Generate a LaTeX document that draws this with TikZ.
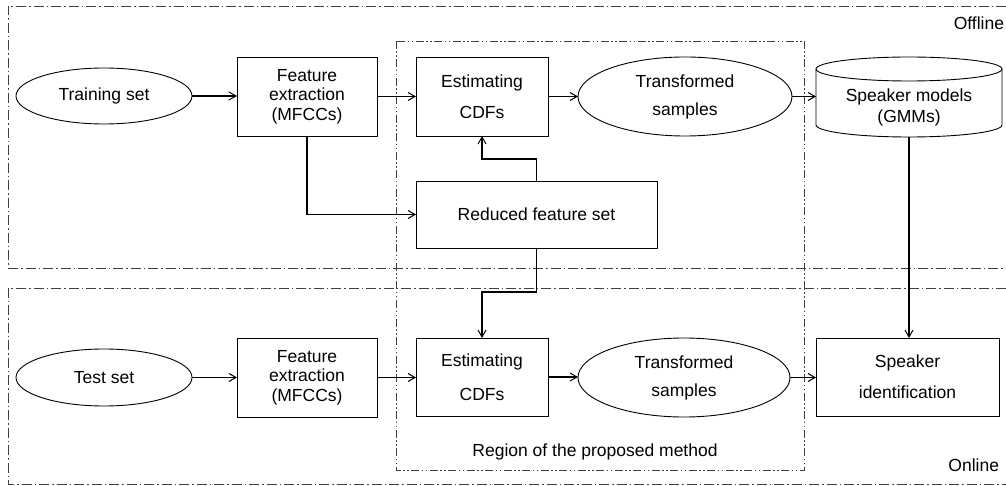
\documentclass[tikz,border=0pt]{standalone}
\usepackage{fontspec}
\setmainfont{Liberation Sans}
\usetikzlibrary{arrows.meta,shapes.geometric,calc}
\begin{document}
\begin{tikzpicture}[x=1pt,y=1pt,
  every node/.style={font=\fontsize{17.5}{21}\selectfont, inner sep=0pt, outer sep=0pt},
  box/.style={draw, line width=0.9pt, align=center},
  oval/.style={draw, ellipse, line width=0.9pt, align=center},
  conn/.style={line width=1.2pt, -{Straight Barb[length=7pt,width=8pt,line width=1pt]}},
  frame/.style={line width=0.7pt, black!75, dash pattern=on 10pt off 3pt on 1.5pt off 3pt},
  rframe/.style={line width=0.7pt, black!75, dash pattern=on 8pt off 2.5pt on 1.5pt off 2.5pt on 1.5pt off 2.5pt}
]
\useasboundingbox (0,0) rectangle (1006,485);

% frames
\draw[frame] (1006,479) -- (8,479) -- (8,217) -- (1006,217);
\draw[frame] (1006,197) -- (8,197) -- (8,1) -- (1006,1);
\draw[rframe] (396,444) rectangle (804,15);

\node[anchor=east] (off) at (1004,462) {Offline};
\node[anchor=east] (on) at (999,20) {Online};
\node (reg) at (595,33) {Region of the proposed method};

% top row
\node[oval, minimum width=176pt, minimum height=56pt] (train) at (104,389) {Training set};
\node[box, minimum width=140pt, minimum height=79pt, font=\fontsize{17.5}{19.5}\selectfont] (fe1) at (307,388.5) {Feature\\extraction\\(MFCCs)};
\node[box, minimum width=132pt, minimum height=79pt, font=\fontsize{17.5}{31}\selectfont] (cdf1) at (482,388.5) {Estimating\\CDFs};
\node[oval, minimum width=214pt, minimum height=79pt, font=\fontsize{17.5}{28}\selectfont] (ts1) at (685,388.5) {Transformed\\samples};
\node[minimum width=186pt, minimum height=80pt] (sm) at (909,388) {};
\draw[line width=0.9pt] ([yshift=-12pt]sm.north west) -- ([yshift=12pt]sm.south west)
  arc[start angle=180, end angle=360, x radius=93pt, y radius=12pt]
  -- ([yshift=-12pt]sm.north east)
  arc[start angle=0, end angle=180, x radius=93pt, y radius=12pt] -- cycle;
\draw[line width=0.9pt] ([yshift=-12pt]sm.north west)
  arc[start angle=180, end angle=360, x radius=93pt, y radius=12pt];
\node[align=center, font=\fontsize{17.5}{21}\selectfont] (smt) at (909,378) {Speaker models\\(GMMs)};

\node[box, minimum width=241pt, minimum height=67pt] (rfs) at (536.5,270.5) {Reduced feature set};

% bottom row
\node[oval, minimum width=176pt, minimum height=57pt] (test) at (104,107.5) {Test set};
\node[box, minimum width=140pt, minimum height=79pt, font=\fontsize{17.5}{19.5}\selectfont] (fe2) at (307,107.5) {Feature\\extraction\\(MFCCs)};
\node[box, minimum width=132pt, minimum height=78pt, font=\fontsize{17.5}{34}\selectfont] (cdf2) at (482,108) {Estimating\\CDFs};
\node[oval, minimum width=212pt, minimum height=79pt, font=\fontsize{17.5}{28}\selectfont] (ts2) at (684,107.5) {Transformed\\samples};
\node[box, minimum width=183pt, minimum height=78pt, font=\fontsize{17.5}{31}\selectfont] (si) at (907.5,108) {Speaker\\identification};

\coordinate (m1) at (482,326);
\coordinate (m2) at (482,193);

% connectors
\draw[conn] (train.east) -- (train.east -| fe1.west);
\draw[conn] (fe1.east) -- (fe1.east -| cdf1.west);
\draw[conn] (cdf1.east) -- (cdf1.east -| ts1.west);
\draw[conn] (ts1.east) -- (ts1.east -| sm.west);
\draw[conn] (fe1.south) |- (rfs.west);
\draw[conn] (rfs.north) |- (m1) -- (cdf1.south);
\draw[conn] (rfs.south) |- (m2) -- (cdf2.north);
\draw[conn] (sm.south) -- (sm.south |- si.north);
\draw[conn] (test.east) -- (test.east -| fe2.west);
\draw[conn] (fe2.east) -- (fe2.east -| cdf2.west);
\draw[conn] (cdf2.east) -- (cdf2.east -| ts2.west);
\draw[conn] (ts2.east) -- (ts2.east -| si.west);
\end{tikzpicture}
\end{document}
